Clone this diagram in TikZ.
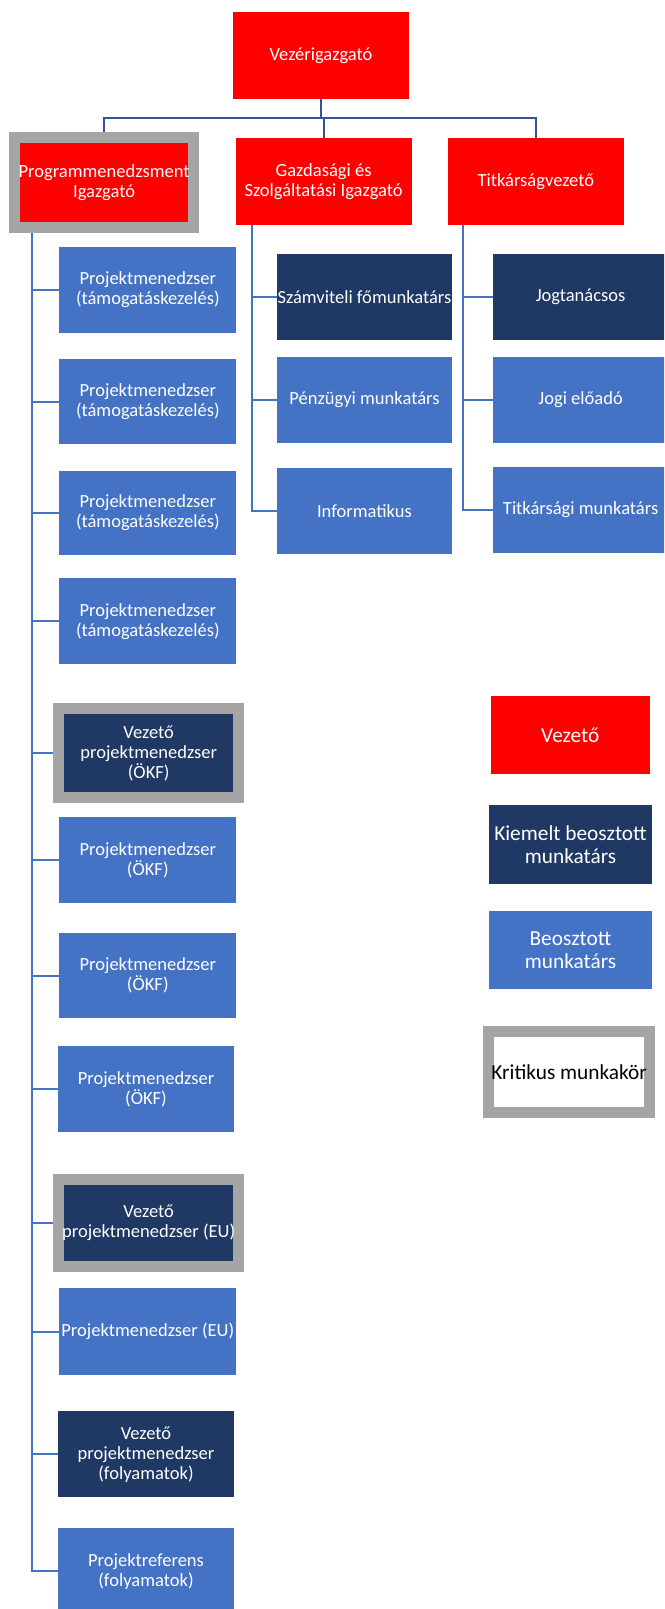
\documentclass[tikz,border=0pt]{standalone}
\usepackage{fontspec}
\setmainfont{Carlito}
\usetikzlibrary{backgrounds}
\definecolor{cred}{HTML}{FF0000}
\definecolor{cnavy}{HTML}{203864}
\definecolor{cblue}{HTML}{4472C4}
\definecolor{cgray}{HTML}{A5A5A5}
\definecolor{cline}{HTML}{4472C4}
\definecolor{ctopline}{HTML}{2F5597}
\newcommand{\bx}[7]{\node[#6, minimum width={(#4-#2)*0.75pt}, minimum height={(#5-#3)*0.75pt}] (#1) at ({(#2+#4)/2},{(#3+#5)/2}) {#7};}
\tikzset{
  boxbase/.style={rectangle, inner sep=0pt, outer sep=0pt, align=center, text=white, font=\fontsize{13.9}{15}\selectfont},
  redbox/.style={boxbase, fill=cred},
  navybox/.style={boxbase, fill=cnavy},
  bluebox/.style={boxbase, fill=cblue},
  whitebox/.style={boxbase, fill=white, text=black},
  crit/.style={draw=cgray, line width=8.25pt},
  legendtxt/.style={font=\fontsize{16}{17}\selectfont},
  conn/.style={draw=cline, line width=1.6pt},
  topconn/.style={draw=ctopline, line width=1.6pt}
}
\begin{document}
\begin{tikzpicture}[x=0.75pt, y=-0.75pt]
\useasboundingbox (0,0) rectangle (664,1609);
\clip (0,0) rectangle (664,1609);
% top level
\bx{vez}{233}{12.3}{409}{99}{redbox}{Vezérigazgató}
\bx{prog}{14.65}{138}{193.5}{227}{redbox, crit}{Programmenedzsment\\Igazgató}
\bx{gaz}{235.5}{138.3}{411.7}{225.3}{redbox}{Gazdasági és\\Szolgáltatási Igazgató}
\bx{tit}{447.7}{138.3}{624}{225.3}{redbox}{Titkárságvezető}
% column 1
\bx{p1}{59.3}{246.7}{236.3}{332.7}{bluebox}{Projektmenedzser\\(támogatáskezelés)}
\bx{p2}{59.3}{359.3}{236.3}{444}{bluebox}{Projektmenedzser\\(támogatáskezelés)}
\bx{p3}{59.3}{470.7}{236.3}{555.3}{bluebox}{Projektmenedzser\\(támogatáskezelés)}
\bx{p4}{59.3}{578.3}{236.3}{664.3}{bluebox}{Projektmenedzser\\(támogatáskezelés)}
\bx{okfv}{58.9}{708.8}{238.5}{797.5}{navybox, crit}{Vezető\\projektmenedzser\\(ÖKF)}
\bx{okf1}{59.3}{817}{236.3}{903.3}{bluebox}{Projektmenedzser\\(ÖKF)}
\bx{okf2}{59.3}{933.3}{236.3}{1018.3}{bluebox}{Projektmenedzser\\(ÖKF)}
\bx{okf3}{58}{1046}{234}{1132.3}{bluebox}{Projektmenedzser\\(ÖKF)}
\bx{euv}{58.9}{1179.2}{238.5}{1266.65}{navybox, crit}{Vezető\\projektmenedzser (EU)}
\bx{eu1}{59.3}{1288.3}{236.3}{1375}{bluebox}{Projektmenedzser (EU)}
\bx{folv}{58}{1411.3}{234}{1497.3}{navybox}{Vezető\\projektmenedzser\\(folyamatok)}
\bx{pref}{58}{1528.3}{234}{1614.3}{bluebox}{Projektreferens\\(folyamatok)}
% column 2
\bx{szf}{276.6}{254}{452.3}{340}{navybox}{Számviteli főmunkatárs}
\bx{pm}{276.6}{356.7}{452.3}{442.7}{bluebox}{Pénzügyi munkatárs}
\bx{inf}{276.6}{468}{452.3}{554}{bluebox}{Informatikus}
% column 3
\bx{jt}{492.6}{254}{668.6}{340}{navybox}{Jogtanácsos}
\bx{je}{492.6}{356.7}{668.6}{442.7}{bluebox}{Jogi előadó}
\bx{tmk}{492.6}{466.7}{668.6}{552.7}{bluebox}{Titkársági munkatárs}
% legend
\bx{lv}{490.5}{696.3}{650}{774.3}{redbox, legendtxt}{Vezető}
\bx{lk}{489}{804.7}{652}{884}{navybox, legendtxt}{Kiemelt beosztott\\munkatárs}
\bx{lb}{489}{910.7}{652}{989.3}{bluebox, legendtxt}{Beosztott\\munkatárs}
\bx{lc}{488.35}{1031.65}{649.9}{1112.2}{whitebox, crit, legendtxt}{Kritikus munkakör}
% trunk coordinates
\coordinate (hub) at (321,118);
\coordinate (t1) at (31.8,0);
\coordinate (t2) at (251.6,0);
\coordinate (t3) at (463.4,0);
\begin{scope}[on background layer]
  \draw[topconn] (vez.south) -- (hub);
  \draw[topconn] (hub) -| (prog.north);
  \draw[topconn] (hub) -| (gaz.north);
  \draw[topconn] (hub) -| (tit.north);
  \draw[conn] (prog.south -| t1) |- (pref.west);
  \foreach \n in {p1,p2,p3,p4,okfv,okf1,okf2,okf3,euv,eu1,folv}
    \draw[conn] (\n.west -| t1) -- (\n.west);
  \draw[conn] (gaz.south -| t2) |- (inf.west);
  \foreach \n in {szf,pm}
    \draw[conn] (\n.west -| t2) -- (\n.west);
  \draw[conn] (tit.south -| t3) |- (tmk.west);
  \foreach \n in {jt,je}
    \draw[conn] (\n.west -| t3) -- (\n.west);
\end{scope}
\end{tikzpicture}
\end{document}
